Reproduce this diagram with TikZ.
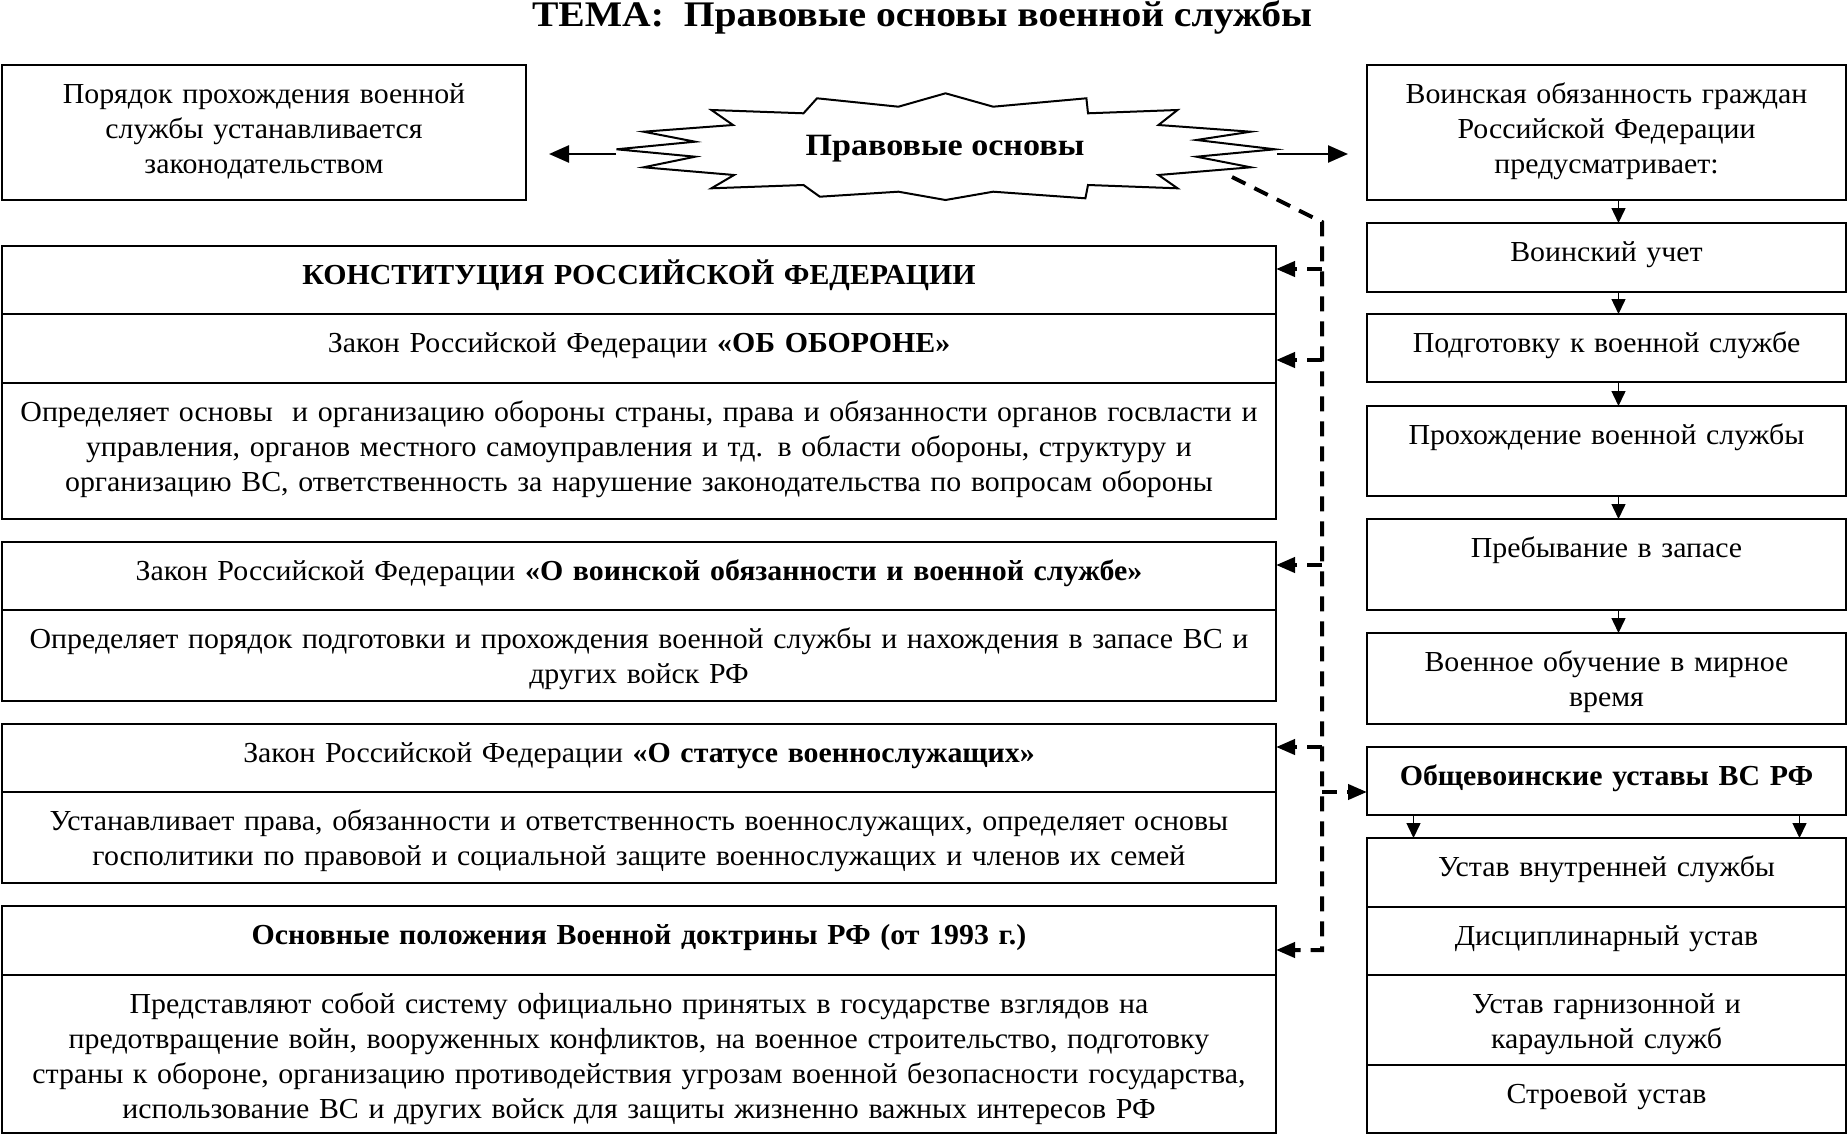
\documentclass[tikz,border=0pt]{standalone}
\usepackage{fontspec}
\setmainfont{Liberation Serif}[FakeStretch=1.03]
\newfontfamily\widefont{Liberation Serif}[FakeStretch=1.1]
\usetikzlibrary{arrows.meta}

\tikzset{
  cell/.style={draw, line width=2pt, anchor=north west, outer sep=0pt,
    inner xsep=4pt, inner ysep=0pt, align=center,
    text height=38.7pt, text depth=#1,
    font=\fontsize{29}{34.8}\selectfont},
  wide/.style={text width=1266pt},
  narrow/.style={text width=471pt},
  arr/.style={line width=1.5pt, -{Triangle[length=15pt,width=14pt]}},
  sarr/.style={line width=2.5pt, -{Triangle[length=20pt,width=17pt]}},
  darr/.style={line width=4pt, dash pattern=on 15pt off 10pt,
    -{Triangle[length=19pt,width=15pt]}}
}

\begin{document}
\begin{tikzpicture}[x=1pt, y=-1pt]
  \useasboundingbox (0,0) rectangle (1848,1135);

  % title
  \node[font=\widefont\bfseries\fontsize{36}{40}\selectfont] (tema) at (922,17)
    {ТЕМА:\ \ Правовые основы военной службы};

  % star
  \draw[line width=2pt, fill=white]
    (945.5,93.3) -- (993.2,106.7) -- (1086.4,98.3) -- (1088,113.3)
    -- (1177.5,110) -- (1158.5,125) -- (1250.7,131.7) -- (1196.5,140)
    -- (1275,149.3) -- (1196.5,156.7) -- (1250.7,167.3) -- (1158.5,175)
    -- (1177.5,188.3) -- (1088,185) -- (1085.4,198.3) -- (993.2,191.7)
    -- (945.5,200) -- (898.4,191.7) -- (819.8,196.7) -- (803.5,185)
    -- (711.4,188.3) -- (734.1,175) -- (643.6,167.3) -- (695.1,156.7)
    -- (616.5,149.3) -- (695.1,141.7) -- (643.6,131.7) -- (733,125)
    -- (711.4,110) -- (803.5,113.3) -- (817,98.3) -- (898.4,106.7) -- cycle;
  \node[font=\widefont\bfseries\fontsize{31}{36}\selectfont] (osn) at (945,149)
    {Правовые основы};
  \coordinate (sl) at (616,154);
  \coordinate (sr) at (1277,154);

  % left column
  \node[cell=96.3pt, text width=516pt] (por) at (2,65)
    {Порядок прохождения военной\\ службы устанавливается\\ законодательством};

  \node[cell=29.3pt, wide] (konst) at (2,246)
    {\textbf{КОНСТИТУЦИЯ РОССИЙСКОЙ ФЕДЕРАЦИИ}};
  \node[cell=30.3pt, wide] (obor) at (konst.south west)
    {Закон Российской Федерации \textbf{«ОБ ОБОРОНЕ»}};
  \node[cell=97.3pt, wide] (opr1) at (obor.south west)
    {Определяет основы \ и организацию обороны страны, права и обязанности органов госвласти и\\
     управления, органов местного самоуправления и тд. в области обороны, структуру и\\
     организацию ВС, ответственность за нарушение законодательства по вопросам обороны};

  \node[cell=29.3pt, wide] (voin) at (2,542)
    {Закон Российской Федерации \textbf{«О воинской обязанности и военной службе»}};
  \node[cell=52.3pt, wide] (opr2) at (voin.south west)
    {Определяет порядок подготовки и прохождения военной службы и нахождения в запасе ВС и\\
     других войск РФ};

  \node[cell=29.3pt, wide] (stat) at (2,724)
    {Закон Российской Федерации \textbf{«О статусе военнослужащих»}};
  \node[cell=52.3pt, wide] (ust) at (stat.south west)
    {Устанавливает права, обязанности и ответственность военнослужащих, определяет основы\\
     госполитики по правовой и социальной защите военнослужащих и членов их семей};

  \node[cell=30.3pt, wide] (doktr) at (2,906)
    {\textbf{Основные положения Военной доктрины РФ (от 1993 г.)}};
  \node[cell=119.3pt, wide] (pred) at (doktr.south west)
    {Представляют собой систему официально принятых в государстве взглядов на\\
     предотвращение войн, вооруженных конфликтов, на военное строительство, подготовку\\
     страны к обороне, организацию противодействия угрозам военной безопасности государства,\\
     использование ВС и других войск для защиты жизненно важных интересов РФ};

  % right column
  \node[cell=96.3pt, narrow] (vob) at (1367,65)
    {Воинская обязанность граждан\\ Российской Федерации\\ предусматривает:};
  \node[cell=30.3pt, narrow] (uchet) at (1367,223) {Воинский учет};
  \node[cell=29.3pt, narrow] (podg) at (1367,314) {Подготовку к военной службе};
  \node[cell=51.3pt, narrow] (proh) at (1367,406) {Прохождение военной службы};
  \node[cell=52.3pt, narrow] (preb) at (1367,519) {Пребывание в запасе};
  \node[cell=52.3pt, narrow] (obuch) at (1367,633) {Военное обучение в мирное\\ время};
  \node[cell=29.3pt, narrow] (ustavy) at (1367,747) {\textbf{Общевоинские уставы ВС РФ}};
  \node[cell=30.3pt, narrow] (vnutr) at (1367,838) {Устав внутренней службы};
  \node[cell=29.3pt, narrow] (disc) at (vnutr.south west) {Дисциплинарный устав};
  \node[cell=51.3pt, narrow] (garn) at (disc.south west) {Устав гарнизонной и\\ караульной служб};
  \node[cell=29.3pt, narrow] (stroev) at (garn.south west) {Строевой устав};

  % arrows from the star
  \draw[sarr, shorten >=23pt] (sl) -- (sl -| por.east);
  \draw[sarr, shorten >=19pt] (sr) -- (sr -| vob.west);

  % chain on the right
  \foreach \a/\b in {vob/uchet, uchet/podg, podg/proh, proh/preb, preb/obuch}
    \draw[arr] ([xshift=12pt]\a.south) -- ([xshift=12pt]\b.north);
  \draw[arr] ([xshift=-193pt]ustavy.south) -- ([xshift=-193pt]vnutr.north);
  \draw[arr] ([xshift=193pt]ustavy.south) -- ([xshift=193pt]vnutr.north);

  % dashed links
  \coordinate (d0) at (1232,177);
  \coordinate (d1) at (1322,222);
  \coordinate (d2) at (1322,950);
  \coordinate (b1) at (1322,269);
  \coordinate (b2) at (1322,360);
  \coordinate (b3) at (1322,565);
  \coordinate (b4) at (1322,747);
  \coordinate (b5) at (1322,792);
  \draw[darr] (d0) -- (d1) -- (d2) -- (d2 -| doktr.east);
  \foreach \c/\n in {b1/konst, b2/obor, b3/voin, b4/stat}
    \draw[darr] (\c) -- (\c -| \n.east);
  \draw[darr] (b5) -- (b5 -| ustavy.west);
\end{tikzpicture}
\end{document}
